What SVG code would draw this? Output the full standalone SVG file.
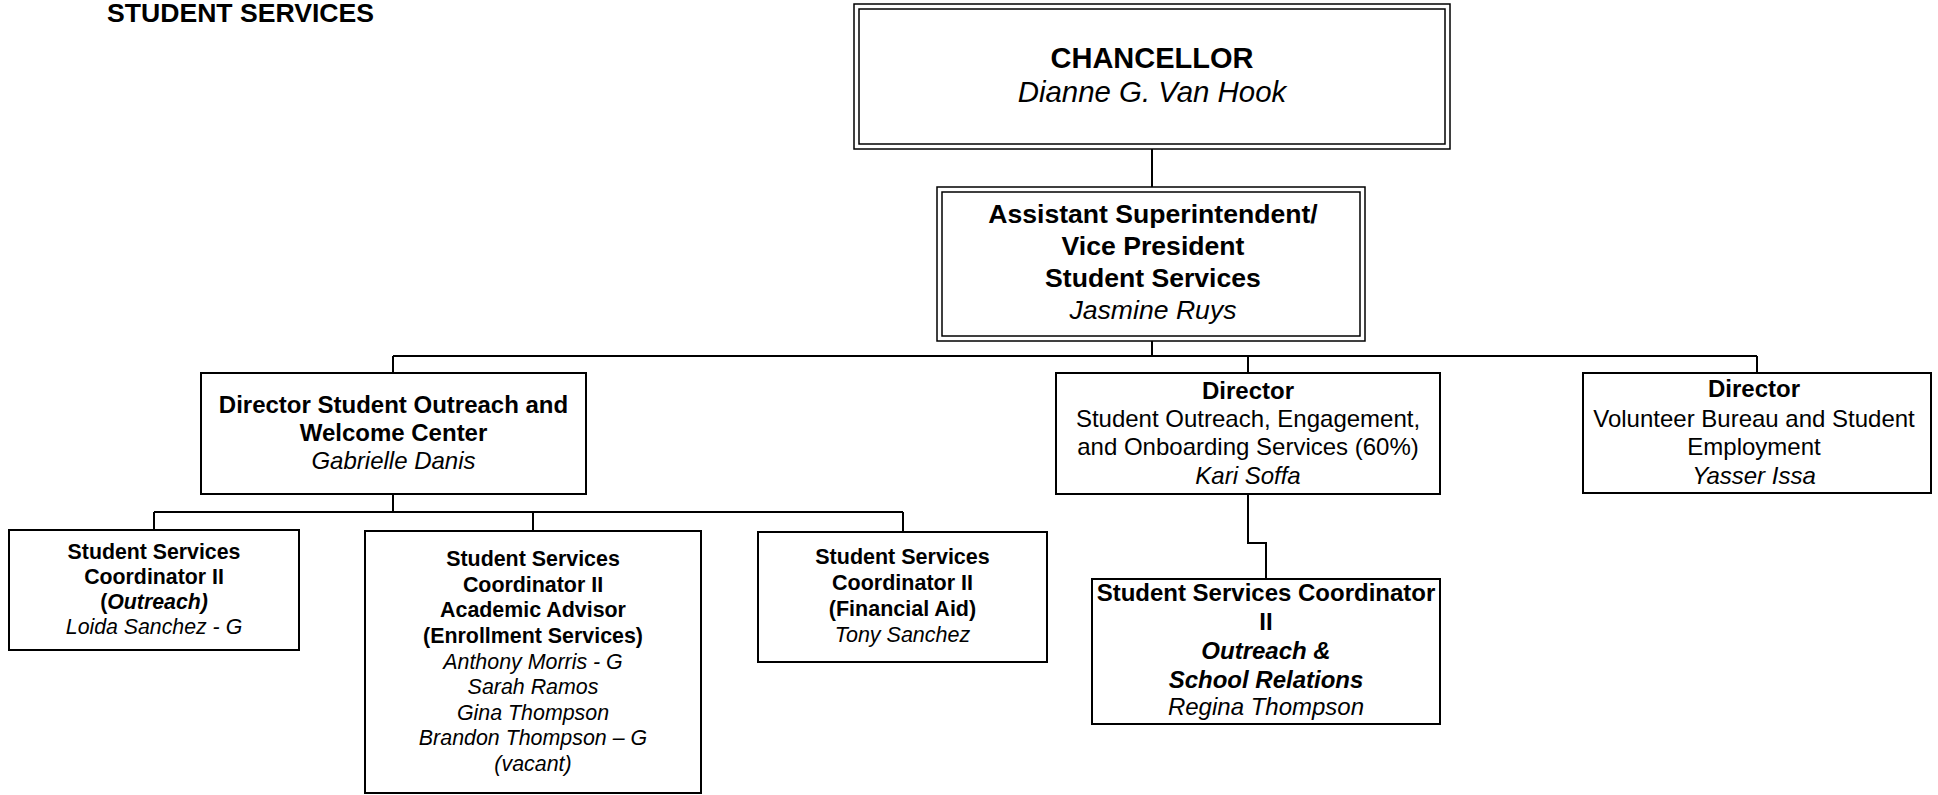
<svg xmlns="http://www.w3.org/2000/svg" width="1938" height="795" viewBox="0 0 1938 795">
<style>
text{font-family:"Liberation Sans",Arial,sans-serif;fill:#000;text-anchor:middle}
.b{font-weight:bold}
.i{font-style:italic}
.box{fill:#fff;stroke:#000;stroke-width:2}
.dbl{fill:none;stroke:#000;stroke-width:1.5}
.conn{fill:none;stroke:#000;stroke-width:2}
</style>
<rect width="1938" height="795" fill="#fff"/>
<text id="title" x="240.5" y="22" class="b" font-size="26.6">STUDENT SERVICES</text>
<g id="connectors" class="conn">
<path d="M1152 149V187"/>
<path d="M1152 341V356"/>
<path d="M393 356H1757"/>
<path d="M393 356V373"/>
<path d="M1248 356V373"/>
<path d="M1757 356V373"/>
<path d="M393 494V512"/>
<path d="M154 512H903"/>
<path d="M154 512V530"/>
<path d="M533 512V531"/>
<path d="M903 512V532"/>
<path d="M1248 494V543H1266V579"/>
</g>
<g id="chancellor">
<rect x="854" y="4" width="596" height="145" fill="#fff" class="dbl"/>
<rect x="859" y="9" width="586" height="135" class="dbl"/>
<text x="1152" y="68" class="b" font-size="29">CHANCELLOR</text>
<text x="1152" y="101.5" class="i" font-size="29.4">Dianne G. Van Hook</text>
</g>
<g id="vp">
<rect x="937" y="187" width="428" height="154" fill="#fff" class="dbl"/>
<rect x="942" y="192" width="418" height="144" class="dbl"/>
<g class="b" font-size="26.6">
<text x="1153" y="223">Assistant Superintendent/</text>
<text x="1153" y="255">Vice President</text>
<text x="1153" y="287">Student Services</text>
</g>
<text x="1153" y="319" class="i" font-size="26.6">Jasmine Ruys</text>
</g>
<g id="dir-welcome">
<rect x="201" y="373" width="385" height="121" class="box"/>
<text x="393.5" y="412.5" class="b" font-size="24">Director Student Outreach and</text>
<text x="393.5" y="440.5" class="b" font-size="24">Welcome Center</text>
<text x="393.5" y="469" class="i" font-size="24">Gabrielle Danis</text>
</g>
<g id="dir-onboarding">
<rect x="1056" y="373" width="384" height="121" class="box"/>
<text x="1248" y="398.5" class="b" font-size="24">Director</text>
<text x="1248" y="426.5" font-size="24">Student Outreach, Engagement,</text>
<text x="1248" y="455" font-size="24">and Onboarding Services (60%)</text>
<text x="1248" y="483.5" class="i" font-size="24">Kari Soffa</text>
</g>
<g id="dir-volunteer">
<rect x="1583" y="373" width="348" height="120" class="box"/>
<text x="1754" y="396.5" class="b" font-size="24">Director</text>
<text x="1754" y="426.5" font-size="24">Volunteer Bureau and Student</text>
<text x="1754" y="455" font-size="24">Employment</text>
<text x="1754" y="483.5" class="i" font-size="24">Yasser Issa</text>
</g>
<g id="coord-outreach">
<rect x="9" y="530" width="290" height="120" class="box"/>
<text x="154" y="558.5" class="b" font-size="21.3">Student Services</text>
<text x="154" y="584" class="b" font-size="21.3">Coordinator II</text>
<text x="154" y="608.5" class="b" font-size="21.3">(<tspan class="i">Outreach)</tspan></text>
<text x="154" y="634" class="i" font-size="21.3">Loida Sanchez - G</text>
</g>
<g id="coord-enrollment">
<rect x="365" y="531" width="336" height="262" class="box"/>
<g class="b" font-size="21.4">
<text x="533" y="565.5">Student Services</text>
<text x="533" y="591.5">Coordinator II</text>
<text x="533" y="617">Academic Advisor</text>
<text x="533" y="643">(Enrollment Services)</text>
</g>
<g class="i" font-size="21.4">
<text x="533" y="668.5">Anthony Morris - G</text>
<text x="533" y="694">Sarah Ramos</text>
<text x="533" y="719.5">Gina Thompson</text>
<text x="533" y="745">Brandon Thompson – G</text>
<text x="533" y="770.5">(vacant)</text>
</g>
</g>
<g id="coord-finaid">
<rect x="758" y="532" width="289" height="130" class="box"/>
<text x="902.5" y="564" class="b" font-size="21.5">Student Services</text>
<text x="902.5" y="590" class="b" font-size="21.5">Coordinator II</text>
<text x="902.5" y="616" class="b" font-size="21.5">(Financial Aid)</text>
<text x="902.5" y="641.5" class="i" font-size="21.5">Tony Sanchez</text>
</g>
<g id="coord-school">
<rect x="1092" y="579" width="348" height="145" class="box"/>
<text x="1266" y="600.5" class="b" font-size="24">Student Services Coordinator</text>
<text x="1266" y="629.5" class="b" font-size="24">II</text>
<text x="1266" y="658.5" class="b i" font-size="24">Outreach &amp;</text>
<text x="1266" y="687.5" class="b i" font-size="24">School Relations</text>
<text x="1266" y="715" class="i" font-size="24">Regina Thompson</text>
</g>
</svg>
